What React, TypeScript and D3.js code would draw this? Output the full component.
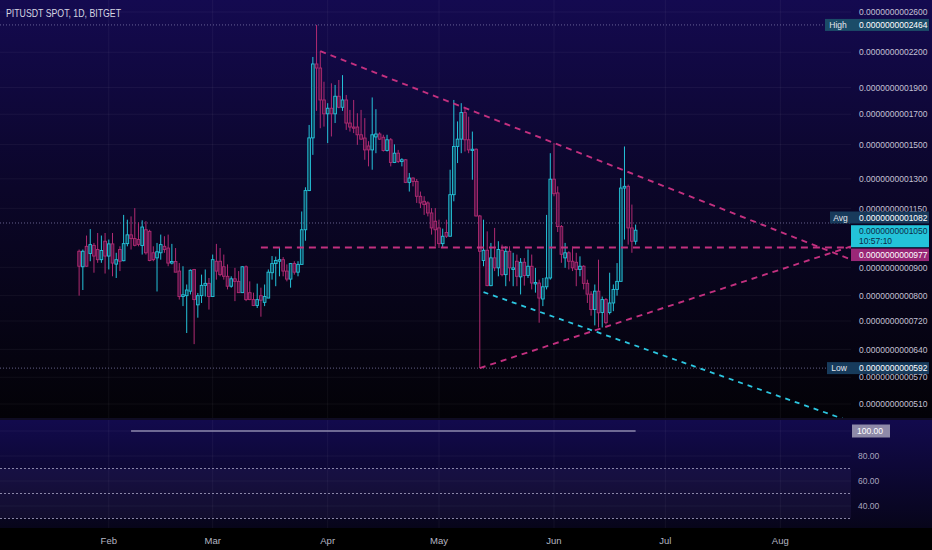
import * as d3 from "d3";

// daily candles, first one on this date (UTC)
const FIRST_CANDLE = "2025-01-24";

// prices are in units of 1e-13 USDT
const opens = [
  962, 902, 982, 953, 986, 969, 929, 1003, 943, 992, 912, 969, 925, 993, 1030, 1014, 1010, 985, 1052, 1045,
  956, 936, 956, 982, 975, 916, 922, 886, 797, 800, 815, 892, 770, 800, 835, 842, 797, 923, 923, 902,
  867, 832, 858, 849, 810, 902, 810, 787, 768, 800, 778, 792, 880, 914, 923, 929, 886, 857, 914, 882,
  911, 1052, 1238, 1541, 2095, 2060, 1804, 1703, 1743, 1703, 1832, 1750, 1804, 1639, 1612, 1612, 1561, 1540, 1490, 1466,
  1547, 1566, 1545, 1462, 1529, 1391, 1446, 1397, 1407, 1281, 1304, 1286, 1209, 1184, 1176, 1128, 1090, 1060, 993, 1040,
  1024, 1217, 1487, 1533, 1712, 1529, 1462, 1470, 1114, 926, 966, 834, 936, 898, 966, 873, 962, 892, 923, 865,
  919, 870, 904, 840, 843, 789, 830, 861, 1298, 1226, 1066, 936, 956, 923, 919, 892, 904, 842, 805, 755,
  815, 746, 787, 746, 776, 821, 849, 1251, 1260, 1060, 1003,
];
const highs = [
  969, 969, 1027, 1055, 996, 1038, 1027, 1038, 1010, 1038, 956, 982, 1119, 1097, 1112, 1151, 1085, 1094, 1090, 1052,
  982, 996, 1031, 1024, 1031, 992, 975, 916, 904, 838, 892, 894, 809, 873, 892, 861, 949, 992, 975, 949,
  911, 867, 898, 886, 904, 907, 849, 810, 841, 827, 838, 892, 943, 941, 975, 939, 911, 916, 923, 923,
  1135, 1255, 1626, 2157, 2464, 2210, 1946, 1780, 1933, 1920, 1960, 2000, 1842, 1731, 1804, 1707, 1731, 1673, 1520, 1823,
  1736, 1577, 1561, 1561, 1540, 1500, 1466, 1416, 1410, 1332, 1308, 1299, 1233, 1209, 1184, 1151, 1151, 1097, 1057, 1097,
  1350, 1804, 1650, 1780, 1743, 1683, 1582, 1475, 1119, 1097, 1045, 996, 1060, 1003, 989, 982, 982, 956, 949, 935,
  935, 969, 949, 898, 855, 861, 1119, 1446, 1508, 1260, 1073, 996, 962, 982, 956, 942, 908, 855, 815, 838,
  929, 797, 792, 880, 838, 916, 1304, 1487, 1269, 1168, 1075,
];
const lows = [
  800, 819, 902, 923, 880, 917, 917, 877, 892, 867, 861, 886, 923, 982, 969, 982, 982, 949, 949, 923,
  923, 814, 929, 956, 904, 911, 882, 787, 766, 685, 804, 654, 730, 776, 797, 755, 797, 855, 867, 855,
  821, 827, 782, 810, 810, 782, 785, 766, 760, 733, 766, 792, 855, 832, 867, 867, 849, 827, 873, 867,
  911, 1005, 1235, 1436, 1724, 1604, 1615, 1508, 1550, 1639, 1743, 1724, 1593, 1582, 1572, 1497, 1529, 1407, 1369, 1350,
  1446, 1529, 1456, 1456, 1369, 1388, 1388, 1369, 1277, 1233, 1260, 1176, 1151, 1119, 1112, 1031, 982, 975, 975, 1017,
  1024, 1184, 1388, 1446, 1456, 1446, 1295, 1112, 592, 904, 832, 832, 886, 867, 867, 832, 849, 832, 832, 804,
  834, 861, 821, 810, 715, 766, 821, 855, 1209, 1042, 917, 898, 892, 886, 832, 867, 821, 776, 736, 707,
  701, 701, 710, 740, 750, 800, 849, 1010, 989, 956, 989,
];
const closes = [
  904, 962, 904, 989, 943, 929, 965, 943, 992, 916, 929, 923, 993, 1030, 1014, 986, 990, 1064, 956, 926,
  929, 960, 989, 969, 916, 922, 882, 797, 803, 819, 889, 787, 800, 835, 842, 797, 929, 886, 873, 867,
  832, 858, 849, 810, 902, 787, 787, 768, 787, 785, 797, 882, 914, 926, 929, 886, 857, 914, 882, 911,
  1052, 1238, 1541, 2095, 2060, 1804, 1703, 1743, 1703, 1832, 1750, 1804, 1639, 1612, 1604, 1561, 1533, 1466, 1466, 1561,
  1566, 1533, 1462, 1529, 1391, 1446, 1397, 1407, 1281, 1304, 1286, 1209, 1176, 1168, 1128, 1060, 1052, 993, 1024, 1024,
  1217, 1487, 1533, 1712, 1529, 1466, 1470, 1114, 962, 966, 834, 936, 898, 969, 873, 962, 898, 898, 867, 919,
  870, 904, 843, 845, 792, 830, 861, 1298, 1222, 1066, 950, 956, 923, 898, 892, 904, 842, 805, 755, 815,
  745, 787, 715, 776, 821, 849, 1251, 1260, 1060, 1003, 1050,
];

const priceTicks = [2600, 2200, 1900, 1700, 1500, 1300, 1150, 900, 800, 720, 640, 570, 510];
const monthDates = ["2025-02-01", "2025-03-01", "2025-04-01", "2025-05-01", "2025-06-01", "2025-07-01", "2025-08-01"];
const monthLabels = ["Feb", "Mar", "Apr", "May", "Jun", "Jul", "Aug"];

const highPrice = 2464;
const lowPrice = 592;
const avgPrice = 1082;
const lastPrice = 1050;
const levelPrice = 977;
const levelFrom = 49; // candle index where the horizontal level starts
const countdown = "10:57:10";

// drawings: [candle index, price]
const fallingLine = [[65, 2210], [129, 1500]];
const risingLine = [[108, 592], [142, 703]];
const supportLine = [[109, 812], [143, 675]];

// lower pane
const oscIndex = [14, 150];
const oscValues = [100, 100];
const oscTicks = [100, 80, 60, 40];
const oscBands = [70, 50, 30];

const UP = "#25c3d9";
const UP_FILL = "#0d4258";
const DOWN = "#b02b72";
const DOWN_FILL = "#4d1244";
const FONT = "'Liberation Sans', Arial, sans-serif";

const PLOT_R = 851;
const MAIN_B = 418;
const OSC_T = 420;
const OSC_B = 528;

const fmt = (v: number) => "0." + String(Math.round(v)).padStart(13, "0");
const utc = (s: string) => new Date(s + "T00:00:00Z");

export default function App() {
  const start = utc(FIRST_CANDLE);
  const x = d3.scaleUtc().domain([utc(monthDates[0]), utc(monthDates[6])]).range([108.8, 780.3]);
  const y = d3.scaleLog().domain([510, 2600]).range([404, 12]);
  const oy = d3.scaleLinear().domain([30, 100]).range([518.5, 431]);
  const xi = (i: number) => x(d3.utcDay.offset(start, i));

  const ext = (line: number[][]) => {
    const [a, b] = line;
    const x1 = xi(a[0]), y1 = y(a[1]);
    const k = (y(b[1]) - y1) / (xi(b[0]) - x1);
    return { x1, y1, x2: PLOT_R, y2: y1 + k * (PLOT_R - x1) };
  };
  const fl = ext(fallingLine);
  const rl = ext(risingLine);
  const sl = ext(supportLine);

  const oscLine = d3.line<number>().x((d, i) => xi(oscIndex[i])).y((d) => oy(d));

  const valueBox = (v: number, cy: number, bg: string, tag?: string, tagW = 24) => (
    <g>
      {tag && <rect x={PLOT_R - tagW} y={cy - 6} width={tagW} height={12} fill={bg} />}
      {tag && (
        <text x={PLOT_R - tagW / 2} y={cy + 3.2} textAnchor="middle" fontSize={8.5} fill="#e4e6ee">
          {tag}
        </text>
      )}
      <rect x={PLOT_R} y={cy - 6} width={78} height={12} fill={bg} />
      <text x={859} y={cy + 3.2} fontSize={8.5} fill="#ffffff">
        {fmt(v)}
      </text>
    </g>
  );

  return (
    <svg
      width={932}
      height={550}
      style={{ position: "absolute", left: 0, top: 0, fontFamily: FONT }}
    >
      <defs>
        <linearGradient id="mainBg" x1="0" y1="0" x2="0" y2="1">
          <stop offset="0" stopColor="#140a50" />
          <stop offset="0.45" stopColor="#0b0629" />
          <stop offset="1" stopColor="#030207" />
        </linearGradient>
        <linearGradient id="oscBg" x1="0" y1="0" x2="0" y2="1">
          <stop offset="0" stopColor="#120a4d" />
          <stop offset="1" stopColor="#07051a" />
        </linearGradient>
        <clipPath id="mainClip">
          <rect x={0} y={0} width={PLOT_R} height={MAIN_B} />
        </clipPath>
      </defs>

      <rect x={0} y={0} width={932} height={550} fill="#000000" />
      <rect x={0} y={0} width={932} height={MAIN_B} fill="url(#mainBg)" />
      <rect x={0} y={OSC_T} width={932} height={OSC_B - OSC_T} fill="url(#oscBg)" />
      <line x1={0} x2={932} y1={419} y2={419} stroke="#1e1846" />

      {/* grid */}
      {monthDates.map((d) => (
        <g key={d}>
          <line x1={x(utc(d))} x2={x(utc(d))} y1={0} y2={MAIN_B} stroke="#ffffff" strokeOpacity={0.05} />
          <line x1={x(utc(d))} x2={x(utc(d))} y1={OSC_T} y2={OSC_B} stroke="#ffffff" strokeOpacity={0.05} />
        </g>
      ))}
      {priceTicks.map((t) => (
        <line key={t} x1={0} x2={PLOT_R} y1={y(t)} y2={y(t)} stroke="#ffffff" strokeOpacity={0.05} />
      ))}
      {oscTicks.map((t) => (
        <line key={t} x1={0} x2={PLOT_R} y1={oy(t)} y2={oy(t)} stroke="#ffffff" strokeOpacity={0.05} />
      ))}

      {/* high / avg / low markers */}
      {[highPrice, avgPrice, lowPrice].map((p) => (
        <line key={p} x1={0} x2={PLOT_R} y1={y(p)} y2={y(p)} stroke="#8c88b8" strokeOpacity={0.7} strokeDasharray="1 2" />
      ))}

      {/* candles */}
      {closes.map((c, i) => {
        const o = opens[i];
        const up = c >= o;
        const cx = xi(i);
        const top = y(Math.max(o, c));
        const bot = y(Math.min(o, c));
        return (
          <g key={i}>
            <line x1={cx} x2={cx} y1={y(highs[i])} y2={y(lows[i])} stroke={up ? UP : DOWN} strokeWidth={1} />
            <rect
              x={cx - 1.35}
              y={top}
              width={2.7}
              height={Math.max(bot - top, 0.8)}
              fill={up ? UP_FILL : DOWN_FILL}
              stroke={up ? UP : DOWN}
              strokeWidth={0.9}
            />
          </g>
        );
      })}

      {/* drawings */}
      <g clipPath="url(#mainClip)" fill="none">
        <line x1={xi(levelFrom)} x2={PLOT_R} y1={y(levelPrice)} y2={y(levelPrice)} stroke="#c2307f" strokeWidth={2} strokeDasharray="7 5" />
        <line {...fl} stroke="#c2307f" strokeWidth={1.9} strokeDasharray="6 5" />
        <line {...rl} stroke="#c2307f" strokeWidth={1.9} strokeDasharray="6 5" />
        <line {...sl} stroke="#2cc6e0" strokeWidth={1.8} strokeDasharray="5 5" />
      </g>

      {/* title */}
      <text x={6} y={16.5} fontSize={10.5} fill="#d6d6e2" textLength={115} lengthAdjust="spacingAndGlyphs">
        PITUSDT SPOT, 1D, BITGET
      </text>

      {/* price axis */}
      {priceTicks.map((t) => (
        <text key={t} x={859} y={y(t) + 3.2} fontSize={8.5} fill="#c4c1d4">
          {fmt(t)}
        </text>
      ))}
      {valueBox(highPrice, y(highPrice), "#1b4c68", "High", 26)}
      {valueBox(avgPrice, y(avgPrice) - 5.5, "#183a5b", "Avg", 21)}
      {valueBox(lowPrice, y(lowPrice), "#173b5c", "Low", 24)}
      <rect x={PLOT_R} y={y(lastPrice) - 5} width={78} height={22} fill="#23c3d9" />
      <text x={859} y={y(lastPrice) + 4} fontSize={8.5} fill="#0d2c47">
        {fmt(lastPrice)}
      </text>
      <text x={859} y={y(lastPrice) + 14} fontSize={8.5} fill="#0d2c47">
        {countdown}
      </text>
      <rect x={PLOT_R} y={y(levelPrice) + 1} width={78} height={12.5} fill="#9a2777" />
      <text x={859} y={y(levelPrice) + 10.5} fontSize={8.5} fill="#ffffff">
        {fmt(levelPrice)}
      </text>

      {/* lower pane */}
      <rect x={0} y={oy(70)} width={PLOT_R} height={oy(30) - oy(70)} fill="#8a6ee0" fillOpacity={0.08} />
      {oscBands.map((b) => (
        <line key={b} x1={0} x2={PLOT_R} y1={oy(b)} y2={oy(b)} stroke="#a8a4c4" strokeOpacity={0.8} strokeDasharray="2 2" />
      ))}
      <path d={oscLine(oscValues) ?? ""} fill="none" stroke="#8d88ad" strokeWidth={1.5} />
      {oscTicks.slice(1).map((t) => (
        <text key={t} x={858} y={oy(t) + 3.2} fontSize={8.5} fill="#a9a6bf">
          {t.toFixed(2)}
        </text>
      ))}
      <rect x={PLOT_R + 1} y={oy(oscValues[1]) - 6.5} width={38} height={13} fill="#8e8aa8" />
      <text x={857} y={oy(oscValues[1]) + 3.2} fontSize={8.5} fill="#ffffff">
        {oscValues[1].toFixed(2)}
      </text>

      {/* time axis */}
      {monthDates.map((d, i) => (
        <text key={d} x={x(utc(d))} y={543.5} textAnchor="middle" fontSize={9.5} fill="#b4b6c2">
          {monthLabels[i]}
        </text>
      ))}
    </svg>
  );
}
